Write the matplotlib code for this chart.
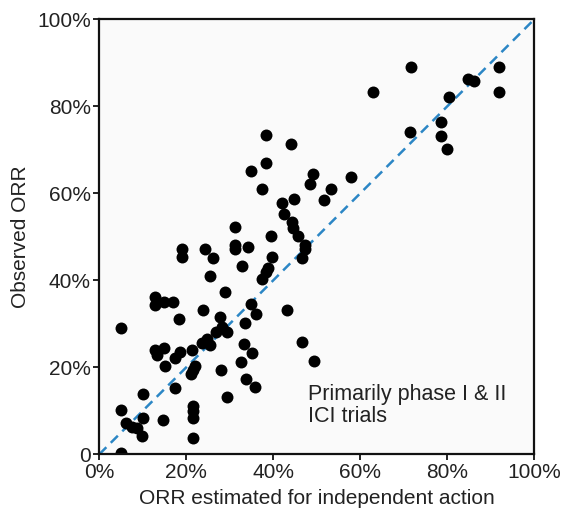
import matplotlib
matplotlib.use("Agg")
import matplotlib.pyplot as plt

plt.rcParams['font.family'] = ['Liberation Sans', 'DejaVu Sans']

# ORR estimated for independent action (%)
x_est = [71.6, 92.0, 62.9, 92.0, 84.8, 86.1, 80.5, 78.5, 78.5, 79.9, 71.5, 57.9,
         38.3, 44.0, 38.3, 34.9, 37.5, 49.2, 48.4, 53.2, 51.6, 42.1, 44.8, 42.5,
         44.4, 44.5, 45.7, 39.5, 47.4, 47.4, 46.7, 39.8,
         31.1, 31.1, 31.1, 34.3, 32.7, 38.9, 38.3, 37.5, 24.2, 26.1, 25.4, 19.0,
         19.0, 29.0,
         12.9, 12.9, 14.9, 17.0, 18.4, 23.9, 27.7, 34.9, 36.0, 43.2, 33.5, 5.0,
         28.1, 29.4, 26.9, 24.7, 25.5, 23.5, 21.2, 12.8, 13.2, 14.8, 18.6, 17.4,
         33.3, 35.0, 46.7, 49.3, 32.5, 15.0, 21.9, 21.5, 21.0, 27.9, 33.8, 35.9, 17.5,
         10.1, 29.3, 21.6, 21.6, 21.6, 21.6, 5.0, 6.1, 7.5, 8.7, 10.1, 9.8, 14.6, 5.0]
# Observed ORR (%)
y_obs = [89.0, 89.0, 83.2, 83.2, 86.2, 85.9, 82.2, 76.5, 73.2, 70.2, 74.2, 63.7,
         73.3, 71.3, 66.9, 65.2, 61.1, 64.5, 62.2, 61.1, 58.4, 57.8, 58.6, 55.2,
         53.3, 52.1, 50.2, 50.1, 48.1, 47.3, 45.1, 45.4,
         52.2, 48.1, 47.1, 47.7, 43.2, 42.9, 42.0, 40.2, 47.2, 45.2, 41.1, 47.2,
         45.4, 37.2,
         36.1, 34.3, 35.1, 35.1, 31.1, 33.1, 31.6, 34.5, 32.2, 33.1, 30.2, 29.1,
         29.3, 28.2, 28.1, 26.5, 25.2, 25.5, 24.0, 24.0, 22.9, 24.4, 23.6, 22.1,
         25.3, 23.3, 25.9, 21.5, 21.2, 20.2, 20.2, 19.3, 18.4, 19.4, 17.2, 15.5, 15.2,
         13.9, 13.2, 11.0, 9.9, 8.3, 3.7, 10.2, 7.2, 6.3, 6.0, 8.3, 4.1, 7.8, 0.4]

ticks = [0, 20, 40, 60, 80, 100]
x_ticklabels = ["0%", "20%", "40%", "60%", "80%", "100%"]
y_ticklabels = ["0", "20%", "40%", "60%", "80%", "100%"]
identity = [0, 100]

fig = plt.figure(figsize=(5.67, 5.16), dpi=100)
ax = fig.add_axes([0.1751, 0.1196, 0.7672, 0.8430])
ax.set_facecolor('#fafafa')

ax.plot(identity, identity, linestyle=(0, (4, 2.5)), color='#2b86c5', linewidth=1.8, zorder=1)
ax.scatter(x_est, y_obs, s=74, color='black', zorder=2, linewidths=0)

ax.set_xlim(0, 100)
ax.set_ylim(0, 100)
ax.set_xticks(ticks)
ax.set_yticks(ticks)
ax.set_xticklabels(x_ticklabels)
ax.set_yticklabels(y_ticklabels)
ax.tick_params(direction='out', length=4, width=1.4, labelsize=15, colors='#222222', pad=2)
for s in ax.spines.values():
    s.set_linewidth(1.6)
    s.set_color('#111111')

ax.set_xlabel("ORR estimated for independent action", fontsize=15, color='#222222', labelpad=5)
ax.set_ylabel("Observed ORR", fontsize=15, color='#222222', labelpad=5)

ax.text(48.0, 16.2, "Primarily phase I & II\nICI trials", fontsize=15.5, color='#222222',
        va='top', ha='left', linespacing=1.1)

fig.savefig("out.png", dpi=100, facecolor='white')
